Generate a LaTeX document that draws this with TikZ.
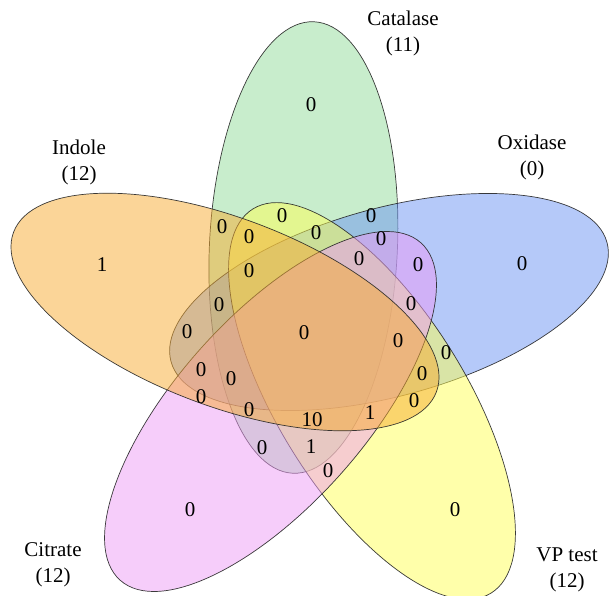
\documentclass[tikz,border=0pt]{standalone}
\usepackage{fontspec}
\setmainfont{Liberation Serif}
\definecolor{cOrange}{RGB}{247,171,49}
\definecolor{cGreen}{RGB}{145,219,153}
\definecolor{cBlue}{RGB}{107,147,243}
\definecolor{cPurple}{RGB}{237,155,245}
\definecolor{cYellow}{RGB}{255,255,85}
\begin{document}
\begin{tikzpicture}[x=1pt,y=1pt,
  vset/.style={fill=#1, fill opacity=0.5, draw=black!85, draw opacity=0.9, line width=0.7pt},
  num/.style={font=\fontsize{21}{25}\selectfont, inner sep=0pt},
  lab/.style={font=\fontsize{21}{26}\selectfont, align=center, inner sep=0pt}]
\useasboundingbox (0,0) rectangle (610,-596);
% ellipses (centre in image px with y negated, long-axis angle)
\draw[vset=cGreen,  shift={(303.4,-247.5)}, rotate=87.3]  (0,0) ellipse [x radius=226, y radius=94];
\draw[vset=cBlue,   shift={(389,-302)},     rotate=15.3]  (0,0) ellipse [x radius=226, y radius=94];
\draw[vset=cYellow, shift={(372,-401)},     rotate=-58.2] (0,0) ellipse [x radius=226, y radius=94];
\draw[vset=cPurple, shift={(270.5,-411.5)}, rotate=48.3]  (0,0) ellipse [x radius=226, y radius=94];
\draw[vset=cOrange, shift={(225,-312)},     rotate=159.3] (0,0) ellipse [x radius=226, y radius=94];
% set labels
\node[lab] (lcat) at (403,-33.5) {Catalase\\(11)};
\node[lab] (lind) at (79,-162) {Indole\\(12)};
\node[lab] (loxi) at (532,-157) {Oxidase\\(0)};
\node[lab] (lcit) at (53,-565) {Citrate\\(12)};
\node[lab] (lvp) at (567,-570) {VP test\\(12)};
% region counts
\node[num] (n1) at (311,-105) {0};
\node[num] (n2) at (522,-264) {0};
\node[num] (n3) at (102,-265) {1};
\node[num] (n4) at (190,-510) {0};
\node[num] (n5) at (455,-510) {0};
\node[num] (n6) at (222,-227) {0};
\node[num] (n7) at (249,-237) {0};
\node[num] (n8) at (282,-216) {0};
\node[num] (n9) at (316,-233) {0};
\node[num] (n10) at (371,-216) {0};
\node[num] (n11) at (381,-239) {0};
\node[num] (n12) at (249,-271) {0};
\node[num] (n13) at (359,-259) {0};
\node[num] (n14) at (418,-265) {0};
\node[num] (n15) at (219,-305) {0};
\node[num] (n16) at (187,-332) {0};
\node[num] (n17) at (411,-304) {0};
\node[num] (n18) at (304,-333) {0};
\node[num] (n19) at (398,-341) {0};
\node[num] (n20) at (446,-353) {0};
\node[num] (n21) at (201,-370) {0};
\node[num] (n22) at (231,-379) {0};
\node[num] (n23) at (422,-374) {0};
\node[num] (n24) at (201,-397) {0};
\node[num] (n25) at (249,-410) {0};
\node[num] (n26) at (414,-401) {0};
\node[num] (n27) at (312,-420) {10};
\node[num] (n28) at (370,-413) {1};
\node[num] (n29) at (262,-448) {0};
\node[num] (n30) at (311,-447) {1};
\node[num] (n31) at (328,-471) {0};
\end{tikzpicture}
\end{document}
